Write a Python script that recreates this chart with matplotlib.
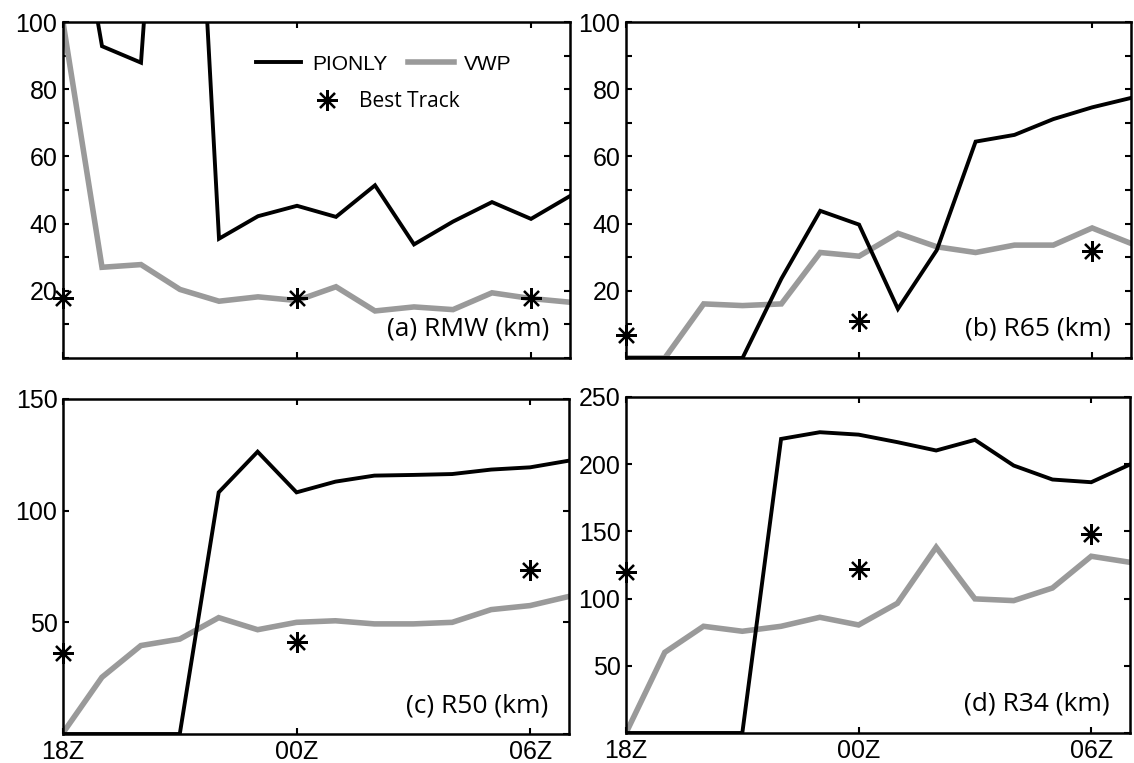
import matplotlib
matplotlib.use("Agg")
import matplotlib.pyplot as plt
from matplotlib.lines import Line2D
import numpy as np

# hours after 18Z, one value per hour
hours = list(range(14))
bt_hours = [0, 6, 12]
xtick_pos = [0, 6, 12]
xtick_labels = ['18Z', '00Z', '06Z']

# (a) RMW
rmw_pionly = [160, 92.8, 87.9, 250, 35.5, 42.2, 45.3, 42.0, 51.4, 33.8, 40.6, 46.4, 41.4, 48.2]
rmw_vwp = [100, 27.0, 27.8, 20.4, 16.9, 18.2, 17.1, 21.2, 14.0, 15.2, 14.4, 19.4, 17.7, 16.6]
rmw_bt = [17.9, 17.9, 17.9]

# (b) R65
r65_pionly = [0, 0, 0, 0, 23.6, 43.8, 39.7, 14.6, 32.1, 64.4, 66.4, 71.1, 74.6, 77.4]
r65_vwp = [0, 0, 16.1, 15.6, 16.1, 31.4, 30.3, 37.1, 33.1, 31.4, 33.6, 33.6, 38.7, 34.1]
r65_bt = [6.7, 11.0, 31.9]

# (c) R50
r50_pionly = [0, 0, 0, 0, 108.2, 126.4, 108.2, 113.0, 115.7, 116.0, 116.4, 118.4, 119.4, 122.4]
r50_vwp = [0.5, 25.4, 39.6, 42.5, 52.1, 46.7, 50.0, 50.7, 49.3, 49.3, 50.0, 55.7, 57.5, 61.6]
r50_bt = [36.3, 41.3, 73.4]

# (d) R34
r34_pionly = [0, 0, 0, 0, 218.8, 223.8, 222.0, 216.4, 210.2, 218.1, 199.0, 188.6, 186.6, 199.8]
r34_vwp = [0, 60.0, 79.4, 75.7, 79.4, 86.1, 80.4, 96.5, 138.2, 99.8, 98.5, 107.9, 131.5, 127.0]
r34_bt = [120.0, 122.0, 147.7]

yticks_100 = list(range(0, 101, 10))
ylabels_100 = ['', '', '20', '', '40', '', '60', '', '80', '', '100']
yticks_150 = [0, 50, 100, 150]
ylabels_150 = ['', '50', '100', '150']
yticks_250 = [0, 50, 100, 150, 200, 250]
ylabels_250 = ['', '50', '100', '150', '200', '250']

panels = [
    ('(a) RMW (km)', rmw_pionly, rmw_vwp, rmw_bt, 100, yticks_100, ylabels_100),
    ('(b) R65 (km)', r65_pionly, r65_vwp, r65_bt, 100, yticks_100, ylabels_100),
    ('(c) R50 (km)', r50_pionly, r50_vwp, r50_bt, 150, yticks_150, ylabels_150),
    ('(d) R34 (km)', r34_pionly, r34_vwp, r34_bt, 250, yticks_250, ylabels_250),
]

GRAY = '#9a9a9a'
ASTER = (8, 2, 0)
TICKFONT = 'Liberation Sans'
LABELFONT = 'Open Sans'
LW_BLACK = 2.8
LW_GRAY = 4.0

fig = plt.figure(figsize=(11.34, 7.63), dpi=100)
rects = [
    [63 / 1134, 1 - 358 / 763, 507 / 1134, 336 / 763],
    [626 / 1134, 1 - 358 / 763, 505 / 1134, 336 / 763],
    [63 / 1134, 1 - 734 / 763, 506 / 1134, 335 / 763],
    [626 / 1134, 1 - 733 / 763, 504 / 1134, 336 / 763],
]

for i, (label, pio, vwp, bt, ymax, yt, yl) in enumerate(panels):
    ax = fig.add_axes(rects[i])
    ax.plot(hours, vwp, color=GRAY, lw=LW_GRAY, solid_joinstyle='miter')
    ax.plot(hours, pio, color='black', lw=LW_BLACK, solid_joinstyle='miter')
    ax.plot(bt_hours, bt, linestyle='none', marker=ASTER, ms=15,
            mec='black', mew=1.6, clip_on=False)
    ax.set_xlim(0, 13)
    ax.set_ylim(0, ymax)
    ax.set_yticks(yt)
    ax.set_yticklabels(yl, fontfamily=TICKFONT, fontsize=18)
    ax.set_xticks(xtick_pos)
    if i >= 2:
        ax.set_xticklabels(xtick_labels, fontfamily=TICKFONT, fontsize=18)
    else:
        ax.set_xticklabels([])
    ax.tick_params(direction='in', length=4, width=1.5, top=True, right=True, pad=4)
    for s in ax.spines.values():
        s.set_linewidth(1.8)
    ax.text(0.959, 0.085, label, transform=ax.transAxes, ha='right', va='center',
            fontfamily=LABELFONT, fontsize=19)

    if i == 0:
        h1 = [Line2D([], [], color='black', lw=LW_BLACK),
              Line2D([], [], color=GRAY, lw=LW_GRAY)]
        leg1 = ax.legend(h1, ['PIONLY', 'VWP'], ncol=2, frameon=False,
                         loc='center left', bbox_to_anchor=(0.38, 0.875),
                         borderpad=0, borderaxespad=0, handlelength=2.2,
                         handletextpad=0.5, columnspacing=1.0,
                         prop={'family': TICKFONT, 'size': 15})
        ax.add_artist(leg1)
        h2 = [Line2D([], [], linestyle='none', marker=ASTER, ms=15,
                     mec='black', mew=1.6)]
        ax.legend(h2, ['Best Track'], frameon=False, loc='center left',
                  bbox_to_anchor=(0.49, 0.762), borderpad=0, borderaxespad=0,
                  handlelength=1.5, handletextpad=0.8,
                  prop={'family': LABELFONT, 'size': 15})

fig.savefig('out.png', dpi=100)
